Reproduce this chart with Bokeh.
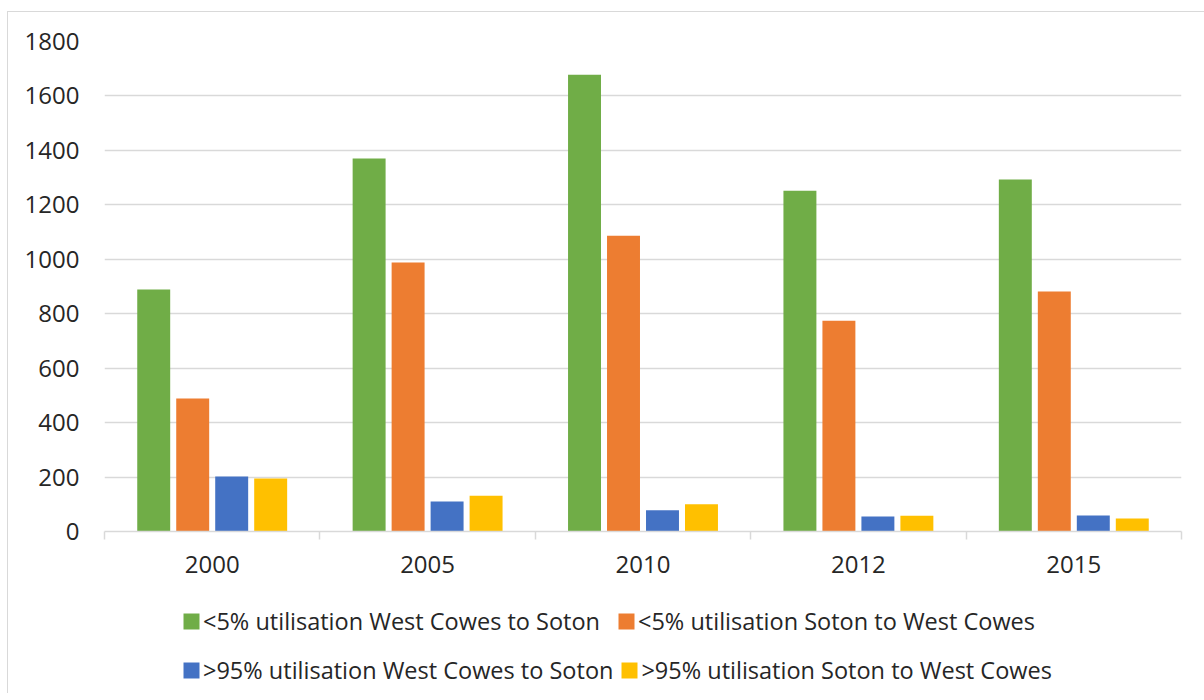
from bokeh.plotting import figure
from bokeh.models import Range1d, FixedTicker, Legend, LegendItem
from bokeh.layouts import column
from bokeh.embed import file_html
from bokeh.resources import INLINE

years = ["2000", "2005", "2010", "2012", "2015"]
series_names = [
    "<5% utilisation West Cowes to Soton",
    "<5% utilisation Soton to West Cowes",
    ">95% utilisation West Cowes to Soton",
    ">95% utilisation Soton to West Cowes",
]
lt5_wc_to_soton = [889, 1370, 1678, 1252, 1293]
lt5_soton_to_wc = [489, 988, 1086, 774, 882]
gt95_wc_to_soton = [202, 110, 78, 55, 59]
gt95_soton_to_wc = [195, 131, 100, 58, 48]
y_ticks = [0, 200, 400, 600, 800, 1000, 1200, 1400, 1600, 1800]

colors = ["#70AD47", "#ED7D31", "#4472C4", "#FFC000"]
series = [lt5_wc_to_soton, lt5_soton_to_wc, gt95_wc_to_soton, gt95_soton_to_wc]

FONT = "Open Sans"
TXT = "#262626"
GRID = "#d9d9d9"
FS = "24px"
LFS = "23.5px"

p = figure(width=1196, height=581, output_backend="svg", toolbar_location=None,
           x_range=Range1d(0, len(years)), y_range=Range1d(0, 1800))
p.min_border_left = 96
p.min_border_right = 23
p.min_border_top = 29
p.min_border_bottom = 62
p.outline_line_color = None
p.background_fill_color = "white"
p.border_fill_color = "white"

slot = 0.181
bw = 0.153
centers = [i + 0.5 for i in range(len(years))]
for k, (vals, col) in enumerate(zip(series, colors)):
    off = (k - 1.5) * slot
    p.vbar(x=[c + off for c in centers], top=vals, width=bw, bottom=0,
           fill_color=col, line_color=None)

# y axis
p.yaxis.ticker = FixedTicker(ticks=y_ticks)
p.yaxis.axis_line_color = None
p.yaxis.major_tick_line_color = None
p.yaxis.minor_tick_line_color = None
p.yaxis.major_label_standoff = 19
p.yaxis.major_label_text_font = FONT
p.yaxis.major_label_text_font_size = FS
p.yaxis.major_label_text_color = TXT

# x axis: labels at category centres, tick marks at boundaries
p.xaxis.ticker = FixedTicker(ticks=centers, minor_ticks=list(range(len(years) + 1)))
p.xaxis.major_label_overrides = {c: y for c, y in zip(centers, years)}
p.xaxis.axis_line_color = GRID
p.xaxis.axis_line_width = 1.5
p.xaxis.major_tick_line_color = None
p.xaxis.minor_tick_line_color = GRID
p.xaxis.minor_tick_line_width = 1.5
p.xaxis.minor_tick_in = 0
p.xaxis.minor_tick_out = 8
p.xaxis.major_tick_in = 0
p.xaxis.major_tick_out = 0
p.xaxis.major_label_standoff = 16
p.xaxis.major_label_text_font = FONT
p.xaxis.major_label_text_font_size = FS
p.xaxis.major_label_text_color = TXT

p.xgrid.grid_line_color = None
p.ygrid.ticker = FixedTicker(ticks=y_ticks)
p.ygrid.grid_line_color = GRID
p.ygrid.grid_line_width = 1.3

# legend panel (zero-size swatch renderers only feed the legend glyphs)
p2 = figure(width=1196, height=100, output_backend="svg", toolbar_location=None,
            x_range=Range1d(0, 1), y_range=Range1d(0, 1))
p2.min_border = 0
p2.axis.visible = False
p2.grid.visible = False
p2.outline_line_color = None
p2.background_fill_color = "white"
p2.border_fill_color = "white"
swatches = [p2.vbar(x=[0], top=[0], bottom=[0], width=0, fill_color=c, line_color=None)
            for c in colors]
items = [LegendItem(label=n, renderers=[r]) for n, r in zip(series_names, swatches)]

common = dict(
    orientation="horizontal",
    label_text_font=FONT, label_text_font_size=LFS, label_text_color=TXT,
    glyph_width=20, glyph_height=20, label_standoff=2, label_height=30,
    padding=0, margin=0,
    border_line_color=None, background_fill_alpha=0,
)
legend1 = Legend(items=items[:2], location=(77, 56), spacing=16, **common)
legend2 = Legend(items=items[2:], location=(77, 7), spacing=6, **common)
p2.add_layout(legend1, "center")
p2.add_layout(legend2, "center")

layout = column(p, p2, spacing=0)
layout.margin = (11, 0, 0, 7)
layout.styles = {"border-left": "1px solid #d9d9d9", "border-top": "1px solid #d9d9d9"}

open("out.html", "w").write(file_html(layout, INLINE))
